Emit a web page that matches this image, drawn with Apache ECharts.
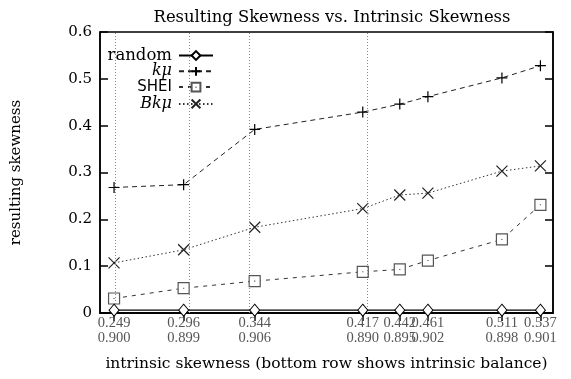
<!DOCTYPE html>
<html>
<head>
<meta charset="utf-8">
<script src="https://cdn.jsdelivr.net/npm/echarts@6/dist/echarts.min.js"></script>
<style>
  html, body { margin: 0; padding: 0; background: #fff; }
  #chart { width: 571px; height: 379px; }
</style>
</head>
<body>
<div id="chart"></div>
<script>
// intrinsic skewness (x positions) and intrinsic balance (second label row)
var skewness = [0.249, 0.296, 0.344, 0.417, 0.442, 0.461, 0.511, 0.537];
var balance = ['0.900', '0.899', '0.906', '0.890', '0.895', '0.902', '0.898', '0.901'];
var gridAt = [0.249, 0.296, 0.344, 0.417];

var randomVals = [0.006, 0.006, 0.006, 0.006, 0.006, 0.006, 0.006, 0.006];
var kmuVals = [0.268, 0.274, 0.392, 0.429, 0.446, 0.462, 0.502, 0.528];
var sheiVals = [0.031, 0.053, 0.068, 0.088, 0.093, 0.112, 0.157, 0.231];
var bkmuVals = [0.107, 0.135, 0.183, 0.223, 0.252, 0.256, 0.303, 0.314];

var serif = 'DejaVu Serif';
var plusPath = 'path://M0,5L10,5M5,0L5,10';
var crossPath = 'path://M0,0L10,10M10,0L0,10';
var boxPath = 'path://M0,0L10,0L10,10L0,10Z M5,4.5L5,5.5';

function pairs(vals) {
    var out = [];
    for (var i = 0; i < skewness.length; i++) {
        out.push([skewness[i], vals[i]]);
    }
    return out;
}

var chart = echarts.init(document.getElementById('chart'));

var legendNames = ['random', 'kμ', 'SHEI', 'Bkμ'];
var legends = [];
for (var i = 0; i < legendNames.length; i++) {
    legends.push({
        data: [legendNames[i]],
        right: 357,
        top: 47 + i * 16.3,
        align: 'right',
        itemWidth: 34,
        itemHeight: 11,
        itemGap: 0,
        padding: 0,
        inactiveColor: '#000',
        selectedMode: false,
        formatter: function (name) {
            if (name === 'kμ') return '{i|kμ}';
            if (name === 'Bkμ') return '{i|Bkμ}';
            if (name === 'SHEI') return '{s|SHEI}';
            return name;
        },
        textStyle: {
            fontFamily: serif,
            fontSize: 16.5,
            color: '#000',
            padding: [0, 2, 0, 0],
            rich: {
                i: { fontFamily: serif, fontStyle: 'italic', fontSize: 16, color: '#000' },
                s: { fontFamily: 'DejaVu Sans', fontSize: 15, color: '#000' }
            }
        }
    });
}

var option = {
    animation: false,
    backgroundColor: '#fff',
    title: {
        text: 'Resulting Skewness vs. Intrinsic Skewness',
        left: 327,
        textAlign: 'center',
        top: 5,
        textStyle: { fontFamily: serif, fontSize: 16.4, fontWeight: 'normal', color: '#000' }
    },
    legend: legends,
    grid: {
        left: 100, right: 18, top: 32, bottom: 66,
        show: true, borderColor: '#000', borderWidth: 1.5, backgroundColor: 'transparent'
    },
    xAxis: [{
        type: 'value',
        min: 0.2395,
        max: 0.5455,
        position: 'bottom',
        name: 'intrinsic skewness (bottom row shows intrinsic balance)',
        nameLocation: 'middle',
        nameGap: 43,
        nameTextStyle: { fontFamily: serif, fontSize: 15.5, color: '#000' },
        splitLine: { show: false },
        axisLine: { show: true, lineStyle: { color: '#000', width: 1.5 } },
        axisTick: { inside: true, length: 8, customValues: skewness, lineStyle: { color: '#000', width: 1.5 } },
        axisLabel: {
            customValues: skewness,
            margin: 3,
            fontFamily: 'Liberation Serif',
            fontSize: 14.5,
            color: '#555',
            lineHeight: 15,
            formatter: function (v) {
                for (var k = 0; k < skewness.length; k++) {
                    if (Math.abs(skewness[k] - v) < 1e-6) return skewness[k].toFixed(3) + '\n' + balance[k];
                }
                return '';
            }
        }
    }, {
        type: 'value',
        min: 0.2395,
        max: 0.5455,
        position: 'top',
        splitLine: { show: false },
        axisLine: { show: true, lineStyle: { color: '#000', width: 1.5 } },
        axisTick: { inside: true, length: 8, customValues: skewness, lineStyle: { color: '#000', width: 1.5 } },
        axisLabel: { show: false }
    }],
    yAxis: [{
        type: 'value',
        min: 0,
        max: 0.6,
        interval: 0.1,
        position: 'left',
        name: 'resulting skewness',
        nameLocation: 'middle',
        nameRotate: 90,
        nameGap: 76,
        nameTextStyle: { fontFamily: serif, fontSize: 15, color: '#000' },
        splitLine: { show: false },
        axisLine: { show: true, lineStyle: { color: '#000', width: 1.5 } },
        axisTick: { inside: true, length: 8, lineStyle: { color: '#000', width: 1.5 } },
        axisLabel: {
            margin: 8,
            fontFamily: serif,
            fontSize: 15,
            color: '#000',
            formatter: function (v) { return v === 0 ? '0' : v.toFixed(1); }
        }
    }, {
        type: 'value',
        min: 0,
        max: 0.6,
        interval: 0.1,
        position: 'right',
        splitLine: { show: false },
        axisLine: { show: true, lineStyle: { color: '#000', width: 1.5 } },
        axisTick: { inside: true, length: 8, lineStyle: { color: '#000', width: 1.5 } },
        axisLabel: { show: false }
    }],
    series: [{
        name: 'random',
        type: 'line',
        data: pairs(randomVals),
        symbol: 'diamond',
        symbolSize: [10, 12],
        lineStyle: { color: '#000', width: 1.2, type: 'solid' },
        itemStyle: { color: '#fff', borderColor: '#000', borderWidth: 1 },
        z: 5,
        markLine: {
            silent: true,
            symbol: 'none',
            label: { show: false },
            lineStyle: { color: '#888', width: 1, type: [1, 2] },
            data: gridAt.map(function (x) { return { xAxis: x }; })
        }
    }, {
        name: 'kμ',
        type: 'line',
        data: pairs(kmuVals),
        symbol: plusPath,
        symbolSize: 11,
        lineStyle: { color: '#222', width: 1, type: [5, 4] },
        itemStyle: { color: 'none', borderColor: '#000', borderWidth: 1.2 }
    }, {
        name: 'SHEI',
        type: 'line',
        data: pairs(sheiVals),
        symbol: boxPath,
        symbolSize: 11,
        lineStyle: { color: '#333', width: 1, type: [4, 5] },
        itemStyle: { color: '#fff', borderColor: '#555', borderWidth: 1.2 }
    }, {
        name: 'Bkμ',
        type: 'line',
        data: pairs(bkmuVals),
        symbol: crossPath,
        symbolSize: 11,
        lineStyle: { color: '#333', width: 1, type: [1.5, 2.5] },
        itemStyle: { color: 'none', borderColor: '#222', borderWidth: 1.2 }
    }]
};

chart.setOption(option);
</script>
</body>
</html>
